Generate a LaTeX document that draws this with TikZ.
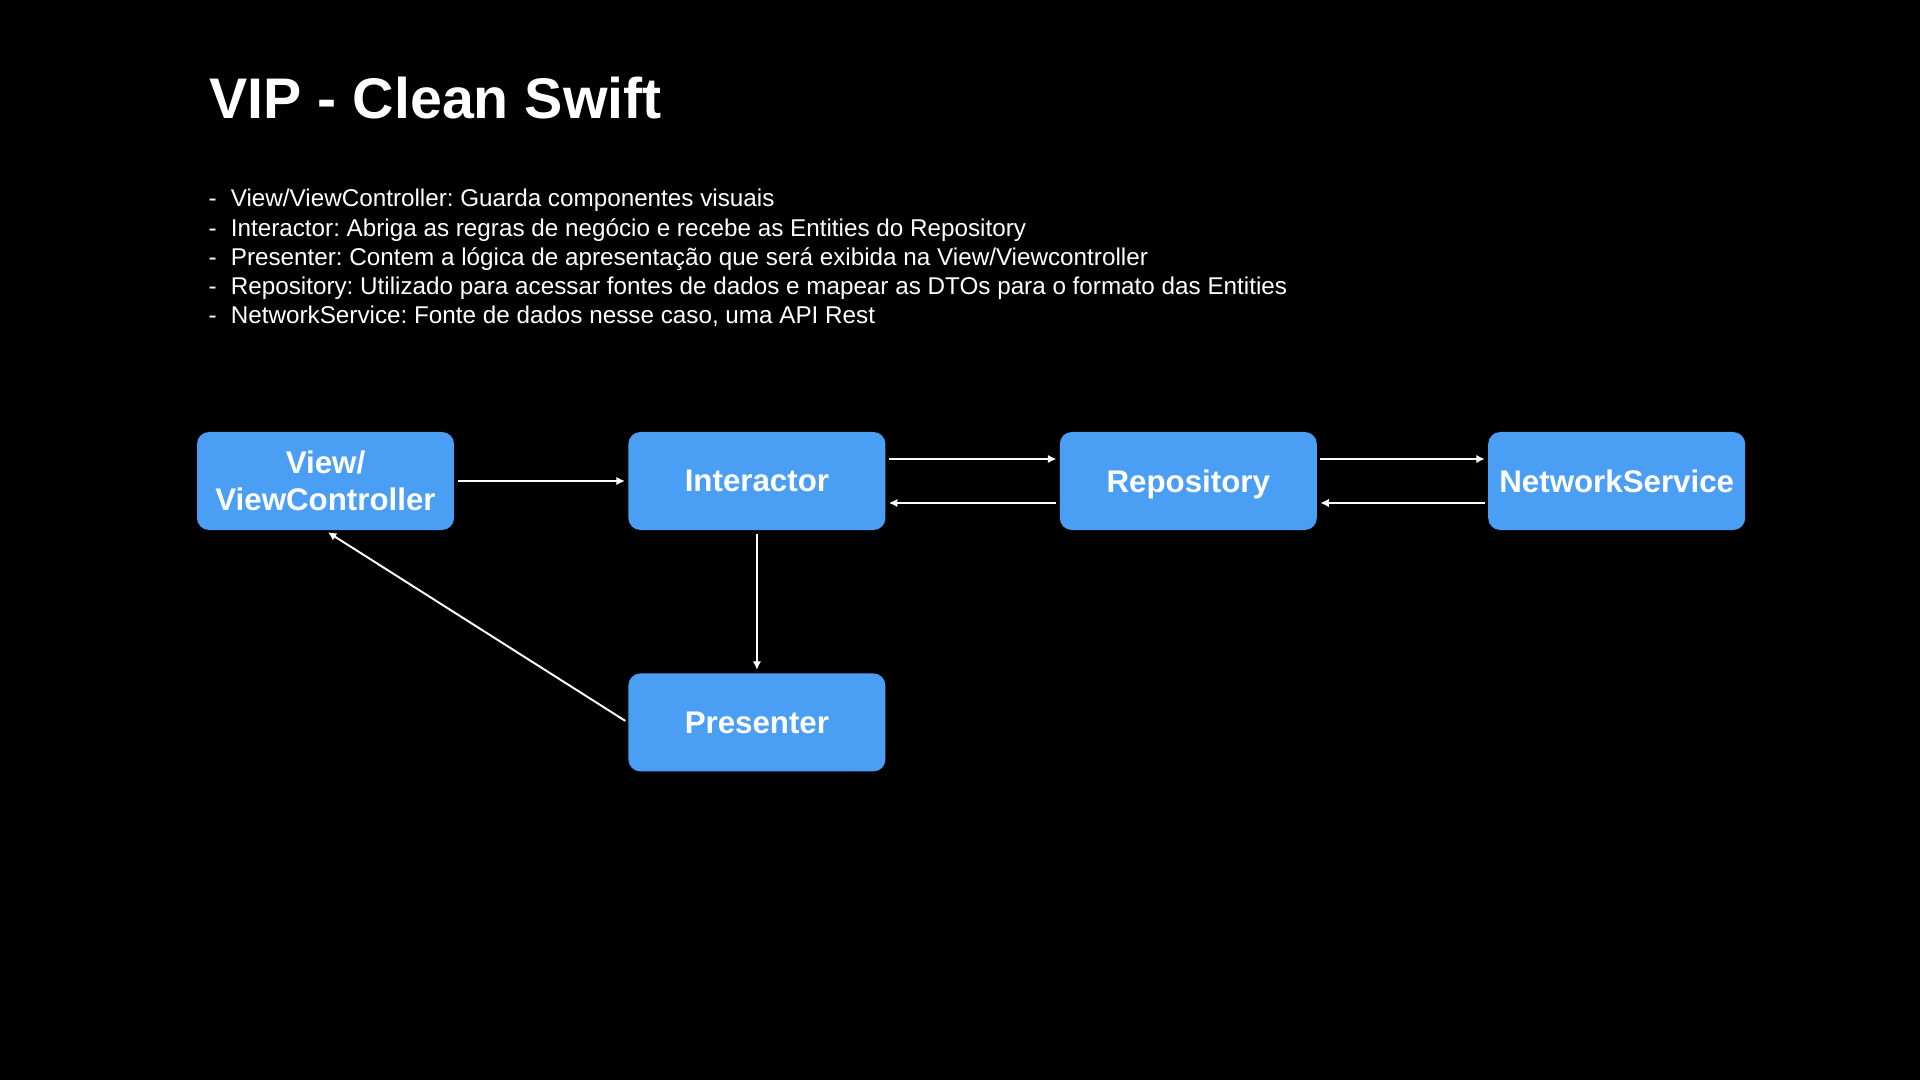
\documentclass[tikz,border=0pt]{standalone}
\usepackage{fontspec}
\setmainfont{Liberation Sans}
\usetikzlibrary{arrows.meta,positioning}
\definecolor{boxblue}{HTML}{4A9FF5}
\newcommand{\itemdash}{\makebox[6.3pt][l]{-}}
\frenchspacing

\begin{document}
\begin{tikzpicture}[
  node distance=1.42cm and 1.73cm,
  box/.style={fill=boxblue,rounded corners=1.2mm,minimum width=2.57cm,minimum height=0.98cm,inner sep=0pt,
    text=white,align=center,font=\bfseries\fontsize{8.9}{10.5}\selectfont},
  note/.style={anchor=base west,inner sep=0pt,text=white,font=\fontsize{6.9}{8.3}\selectfont},
  arr/.style={-{Latex[length=2.4pt,width=2.4pt]},white,line width=0.55pt,shorten <=0.8pt,shorten >=0.8pt}]
\fill[black] (0,0) rectangle (19.2,-10.8);
\node[anchor=base west,inner sep=0pt,text=white,font=\bfseries\fontsize{16.3}{20}\selectfont] (title) at (2.09,-1.19) {VIP - Clean Swift};
\foreach \txt [count=\i] in {
  {View/ViewController: Guarda componentes visuais},
  {Interactor: Abriga as regras de negócio e recebe as Entities do Repository},
  {Presenter: Contem a lógica de apresentação que será exibida na View/Viewcontroller},
  {Repository: Utilizado para acessar fontes de dados e mapear as DTOs para o formato das Entities},
  {NetworkService: Fonte de dados nesse caso, uma API Rest}}
  \node[note] (note\i) at (2.08,{-2.07-0.292*(\i-1)}) {\itemdash\txt};
% boxes
\node[box] (vc) at (3.255,-4.81) {View/\\ViewController};
\node[box,right=of vc] (int) {Interactor};
\node[box,right=of int,text depth=0pt] (repo) {Repository};
\node[box,right=1.70cm of repo] (net) {NetworkService};
\node[box,below=of int] (pres) {Presenter};
% arrows
\draw[arr] (vc) -- (int);
\draw[arr] ([yshift=2.2mm]int.east) -- ([yshift=2.2mm]repo.west);
\draw[arr] ([yshift=-2.2mm]repo.west) -- ([yshift=-2.2mm]int.east);
\draw[arr] ([yshift=2.2mm]repo.east) -- ([yshift=2.2mm]net.west);
\draw[arr] ([yshift=-2.2mm]net.west) -- ([yshift=-2.2mm]repo.east);
\draw[arr] (int) -- (pres);
\draw[arr] (pres.west) -- (vc.south);
\end{tikzpicture}
\end{document}
